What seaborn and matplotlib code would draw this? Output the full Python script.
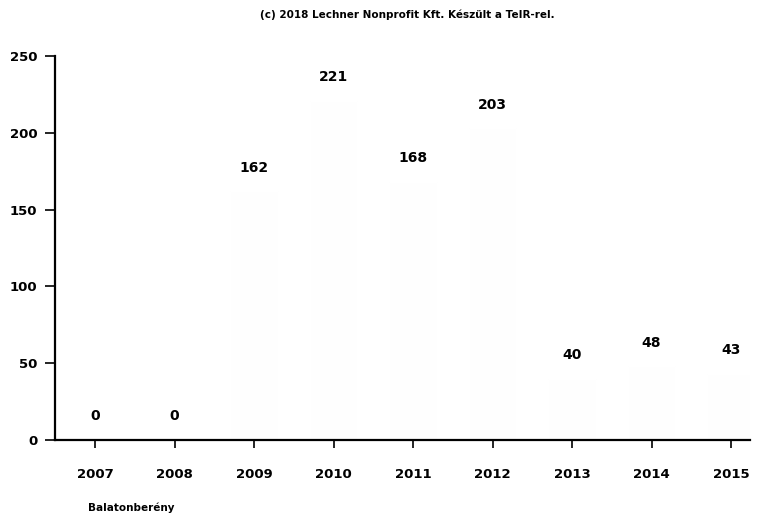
import numpy as np
import pandas as pd
import matplotlib
matplotlib.use('Agg')
import matplotlib.pyplot as plt
import seaborn as sns

# data
years = ['2007', '2008', '2009', '2010', '2011', '2012', '2013', '2014', '2015']
values = [0, 0, 162, 221, 168, 203, 40, 48, 43]
yticks = [0, 50, 100, 150, 200, 250]

title_text = '(c) 2018 Lechner Nonprofit Kft. Készült a TeIR-rel.'
place_name = 'Balatonberény'

df = pd.DataFrame({'year': years, 'value': values})

sns.set_theme(style='white')
plt.rcParams['font.family'] = ['DejaVu Sans']

fig = plt.figure(figsize=(7.62, 5.19), dpi=100)
ax = fig.add_axes([0.0725, 0.152, 0.912, 0.740])

# bars are practically invisible in the reference (white on white)
sns.barplot(data=df, x='year', y='value', color='#fefefe', width=0.6,
            saturation=1, ax=ax)

for cont in ax.containers:
    ax.bar_label(cont, labels=[str(v) for v in values], padding=12,
                 fontsize=10, fontweight='bold', color='black')

ax.set_xlim(-0.5, 8.24)
ax.set_ylim(0, 250)
ax.set_yticks(yticks)
ax.set_xlabel('')
ax.set_ylabel('')

for s in ['top', 'right']:
    ax.spines[s].set_visible(False)
for s in ['left', 'bottom']:
    ax.spines[s].set_color('black')
    ax.spines[s].set_linewidth(1.6)

ax.tick_params(axis='y', which='major', left=True, length=7, width=1.2,
               color='black', labelcolor='black', pad=6, labelsize=9.5)
ax.tick_params(axis='x', which='major', bottom=True, length=6, width=1.2,
               color='black', labelcolor='black', pad=14, labelsize=9.5)
for lab in ax.get_xticklabels() + ax.get_yticklabels():
    lab.set_fontweight('bold')

fig.text(0.535, 0.972, title_text, ha='center', va='center', fontsize=7.5,
         fontweight='bold', color='black')
fig.text(0.115, 0.022, place_name, ha='left', va='center', fontsize=7.5,
         fontweight='bold', color='black')

fig.savefig('out.png', dpi=100, facecolor='white')
